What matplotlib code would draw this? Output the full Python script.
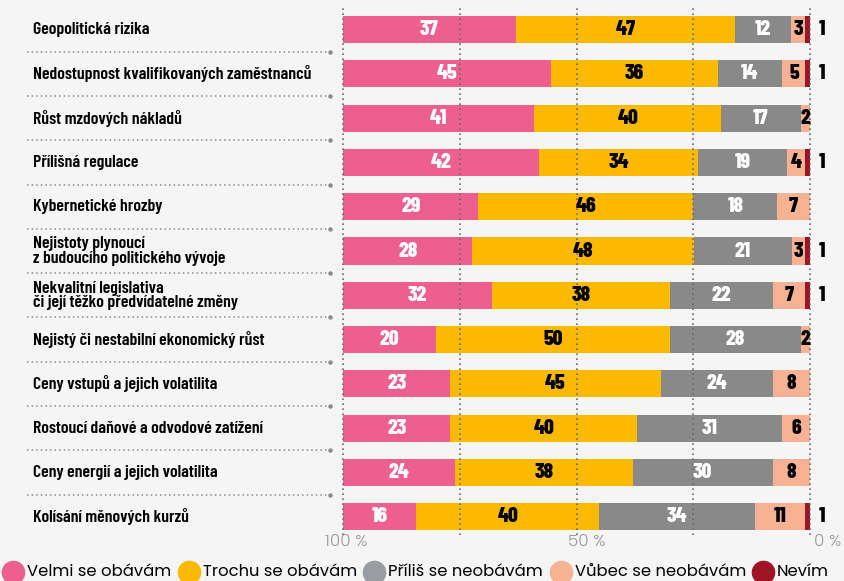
import numpy as np
import matplotlib
matplotlib.use('Agg')
import matplotlib.pyplot as plt
import matplotlib.transforms as mtransforms
from matplotlib.lines import Line2D

# Dados do gráfico
categorias = [
    'Geopolitická rizika',
    'Nedostupnost kvalifikovaných zaměstnanců',
    'Růst mzdových nákladů',
    'Přílišná regulace',
    'Kybernetické hrozby',
    'Nejistoty plynoucí\nz budoucího politického vývoje',
    'Nekvalitní legislativa\nči její těžko předvídatelné změny',
    'Nejistý či nestabilní ekonomický růst',
    'Ceny vstupů a jejich volatilita',
    'Rostoucí daňové a odvodové zatížení',
    'Ceny energií a jejich volatilita',
    'Kolísání měnových kurzů',
]
velmi = [37, 45, 41, 42, 29, 28, 32, 20, 23, 23, 24, 16]
trochu = [47, 36, 40, 34, 46, 48, 38, 50, 45, 40, 38, 40]
prilis = [12, 14, 17, 19, 18, 21, 22, 28, 24, 31, 30, 34]
vubec = [3, 5, 2, 4, 7, 3, 7, 2, 8, 6, 8, 11]
nevim = [1, 1, 0, 1, 0, 1, 1, 0, 0, 0, 0, 1]

series_nomes = ['Velmi se obávám', 'Trochu se obávám', 'Příliš se neobávám',
                'Vůbec se neobávám', 'Nevím']
cores = ['#ec5f8e', '#fbb900', '#898989', '#f7b294', '#9e1425']
cores_legenda = ['#ec5f8e', '#fbb900', '#999ca0', '#f7b294', '#9e1425']
cores_texto = ['white', 'black', 'white', 'black', 'black']
eixo_valores = [100, 50, 0]
eixo_rotulos = ['100 %', '50 %', '0 %']

fonte = ['Barlow Condensed', 'DejaVu Sans']
fonte_leg = ['Poppins', 'DejaVu Sans']
fundo = '#f5f5f5'

fig = plt.figure(figsize=(8.45, 5.81), dpi=100, facecolor=fundo)
ax = fig.add_axes([343 / 845, 1 - 535 / 581, 467 / 845, 527 / 581])
ax.set_facecolor(fundo)

dados = np.array([velmi, trochu, prilis, vubec, nevim], dtype=float)
totais = dados.sum(axis=0)
normalizado = dados / totais * 100
y = np.arange(len(categorias))

esquerda = np.zeros(len(categorias))
for s in range(len(series_nomes)):
    ax.barh(y, normalizado[s], left=esquerda, height=0.61, color=cores[s], zorder=2)
    for i in range(len(categorias)):
        v = dados[s][i]
        if v == 0:
            continue
        if s == 4:
            # Nevím fica do lado de fora da barra
            ax.text(101.8, y[i], f'{int(v)}', ha='left', va='center', color='black',
                    fontsize=15.5, fontweight=800, family=fonte, zorder=4)
        else:
            centro = esquerda[i] + normalizado[s][i] / 2
            ax.text(centro, y[i], f'{int(v)}', ha='center', va='center',
                    color=cores_texto[s], fontsize=15.5, fontweight=800,
                    family=fonte, zorder=4)
    esquerda += normalizado[s]

ax.set_xlim(0, 100)
ax.set_ylim(11.41, -0.485)
ax.axis('off')

# Linhas de grade pontilhadas sobre as barras
for gx in [0, 25, 50, 75, 100]:
    ax.plot([gx, gx], [11.41, -0.485], linestyle=(0, (1, 2)), color='#6b6b6b',
            linewidth=1.2, zorder=3, clip_on=False)

# Rótulos do eixo x
trans_x = mtransforms.blended_transform_factory(ax.transData, fig.transFigure)
desloc = [-0.75, -2.2, -3.7]
for valor, rotulo, d in zip(eixo_valores, eixo_rotulos, desloc):
    ax.text(100 - valor - d, 1 - 542 / 581, rotulo, transform=trans_x, ha='center',
            va='center', color='#999999', fontsize=12, fontweight=300,
            family=fonte_leg)

# Rótulos das categorias e separadores
trans_y = mtransforms.blended_transform_factory(fig.transFigure, ax.transData)
for i, cat in enumerate(categorias):
    ax.text(33 / 845, y[i], cat, transform=trans_y, ha='left', va='center',
            fontsize=12.8, fontweight='semibold', family=fonte, linespacing=0.95)
    if i < len(categorias) - 1:
        linha = Line2D([27 / 845, 328 / 845], [i + 0.5, i + 0.5], transform=trans_y,
                       linestyle=(0, (1, 2)), color='#8a8a8a', linewidth=1.1)
        fig.add_artist(linha)
        fig.add_artist(Line2D([330 / 845], [i + 0.5], transform=trans_y, marker='o',
                              markersize=2.2, color='#8a8a8a', linestyle='none'))

# Legenda
pos_circulo = [13, 189, 374, 561, 763]
for nome, cor, px in zip(series_nomes, cores_legenda, pos_circulo):
    fig.add_artist(Line2D([px / 845], [1 - 572 / 581], marker='o', markersize=16,
                          color=cor, linestyle='none', transform=fig.transFigure))
    fig.text((px + 14) / 845, 1 - 572 / 581, nome, ha='left', va='center',
             fontsize=11.8, fontweight='normal', family=fonte_leg)

fig.savefig('out.png', dpi=100, facecolor=fundo)
